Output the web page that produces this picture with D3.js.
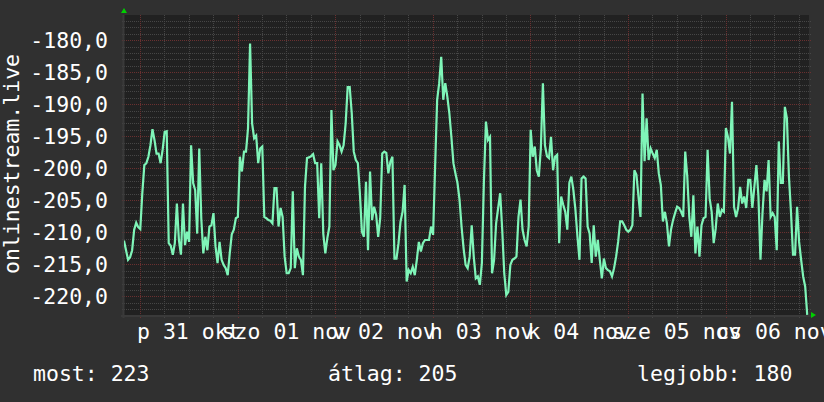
<!DOCTYPE html>
<html><head><meta charset="utf-8">
<script src="https://cdn.jsdelivr.net/npm/d3@7"></script>
<style>
html,body{margin:0;padding:0;background:#303030;}
svg{display:block;}
text{font-family:"DejaVu Sans Mono",monospace;fill:#ffffff;}
</style></head>
<body>
<script>
// ---- data ----
const seriesName = "onlinestream.live";
const startTime = new Date(2025, 9, 30, 20, 4);   // first sample
const stepMinutes = 30;
const values = [
-211.3,-212.8,-214.3,-213.9,-212.8,-209.6,-208.5,-209.2,-209.5,-203.9,
-199.5,-199.2,-198.2,-196.4,-193.9,-195.6,-197.7,-197.7,-199.2,-197.1,
-194.3,-194.2,-211.7,-212.1,-213.5,-211.7,-205.5,-211.2,-213.5,-205.5,
-212.0,-209.9,-211.5,-196.4,-202.3,-203.4,-210.2,-196.9,-207.8,-213.3,
-210.7,-212.8,-209.1,-208.9,-207.0,-212.2,-214.8,-211.5,-214.3,-215.1,
-215.6,-216.7,-213.3,-210.3,-209.6,-207.8,-207.6,-198.2,-200.5,-197.4,
-197.4,-193.7,-180.5,-193.0,-195.3,-194.9,-199.2,-196.9,-196.6,-207.6,
-207.8,-208.1,-208.2,-208.6,-203.1,-203.1,-209.1,-206.2,-207.6,-213.8,
-216.4,-216.4,-215.6,-203.6,-215.6,-212.5,-213.8,-214.3,-216.7,-202.9,
-198.4,-198.3,-198.1,-197.8,-199.2,-199.2,-207.8,-199.2,-210.2,-213.3,
-210.9,-209.1,-190.9,-200.3,-199.5,-195.8,-196.4,-197.4,-196.4,-193.0,
-187.3,-187.3,-191.4,-197.4,-198.7,-199.2,-203.9,-209.9,-210.7,-202.1,
-212.8,-200.5,-208.1,-206.0,-207.3,-210.7,-207.8,-197.7,-197.4,-197.6,
-200.8,-199.0,-198.2,-214.1,-214.1,-211.7,-208.3,-206.8,-202.6,-217.7,
-215.9,-216.4,-215.4,-216.7,-214.3,-211.5,-213.0,-211.7,-211.2,-211.2,
-211.2,-209.1,-210.4,-199.7,-189.3,-186.7,-182.6,-189.3,-186.7,-188.8,
-191.4,-195.1,-199.2,-200.8,-202.3,-204.9,-209.1,-212.5,-215.1,-215.6,
-213.8,-208.9,-213.8,-217.2,-216.9,-218.2,-214.8,-201.9,-192.7,-195.6,
-195.1,-216.4,-214.3,-208.6,-206.2,-203.9,-209.6,-216.4,-219.8,-219.3,
-215.1,-214.3,-214.1,-213.8,-207.6,-204.9,-209.6,-211.2,-212.2,-209.1,
-194.0,-198.2,-196.6,-200.3,-201.3,-196.9,-186.7,-196.4,-198.1,-198.4,
-195.1,-200.3,-198.2,-197.9,-211.7,-204.4,-205.7,-206.8,-209.6,-202.3,
-201.3,-203.4,-206.5,-210.7,-214.3,-201.6,-201.3,-201.6,-209.1,-210.2,
-214.8,-208.9,-213.8,-211.2,-214.3,-217.2,-214.1,-215.6,-215.9,-216.1,
-216.9,-215.6,-213.8,-211.5,-208.3,-208.3,-208.9,-209.6,-209.9,-209.6,
-208.9,-200.3,-201.0,-204.4,-207.6,-188.3,-198.9,-192.2,-198.7,-196.9,
-197.7,-198.4,-197.1,-200.8,-202.6,-208.3,-206.8,-208.6,-212.2,-209.6,
-208.1,-207.0,-206.0,-206.2,-206.8,-207.6,-197.4,-201.3,-207.6,-210.7,
-204.2,-213.3,-209.1,-213.8,-208.9,-207.8,-207.6,-197.1,-204.7,-206.8,
-211.7,-209.4,-205.5,-207.6,-206.5,-206.8,-193.7,-195.1,-197.7,-189.6,
-206.0,-207.6,-206.2,-202.9,-205.5,-204.4,-206.2,-201.8,-201.8,-206.2,
-202.9,-199.5,-204.4,-214.3,-207.0,-201.8,-203.6,-198.7,-207.6,-207.0,
-207.6,-212.8,-195.8,-202.3,-202.3,-190.4,-192.2,-201.3,-206.8,-213.5,
-213.5,-206.0,-211.5,-214.3,-216.9,-218.5,-222.9
];
const dayLabels = ["p 31 okt","szo 01 nov","v 02 nov","h 03 nov","k 04 nov","sze 05 nov","cs 06 nov"];
const dayDates = [[2025,9,31],[2025,10,1],[2025,10,2],[2025,10,3],[2025,10,4],[2025,10,5],[2025,10,6]];
const yTickValues = [-180,-185,-190,-195,-200,-205,-210,-215,-220];
const legendItems = [["most:", "223"], ["átlag:", "205"], ["legjobb:", "180"]];
const domainStart = new Date(2025, 9, 30, 20, 4);
const domainEnd = new Date(2025, 10, 6, 20, 30);
const yDomain = [-222.92, -176.05];

// ---- layout ----
const W = 824, H = 402;
const L = 124, R = 809, T = 15, B = 315;
const svg = d3.select("body").append("svg").attr("width", W).attr("height", H);
svg.append("rect").attr("width", W).attr("height", H).attr("fill", "#303030");

const x = d3.scaleTime().domain([domainStart, domainEnd]).range([L, R]);
const y = d3.scaleLinear().domain(yDomain).range([B, T]);

svg.append("rect").attr("x", L).attr("y", T).attr("width", R - L).attr("height", B - T).attr("fill", "#212121");

const data = values.map((v, i) => ({t: new Date(startTime.getTime() + i * stepMinutes * 60000), v}));

// grid
const minorColor = "#464646", majorColor = "#6a3030";
const g = svg.append("g");
const minorY = d3.range(Math.ceil(yDomain[0]), Math.floor(yDomain[1]) + 1).filter(v => v % 5 !== 0);
g.selectAll(".ymin").data(minorY).join("line")
  .attr("x1", L - 2).attr("x2", R + 2)
  .attr("y1", d => Math.round(y(d)) + 0.5).attr("y2", d => Math.round(y(d)) + 0.5)
  .attr("stroke", minorColor).attr("stroke-dasharray", "1,1");
const xMinor = d3.timeHour.every(6).range(domainStart, domainEnd).filter(d => d.getHours() !== 0);
g.selectAll(".xmin").data(xMinor).join("line")
  .attr("x1", d => Math.round(x(d)) + 0.5).attr("x2", d => Math.round(x(d)) + 0.5)
  .attr("y1", T).attr("y2", B + 3)
  .attr("stroke", minorColor).attr("stroke-dasharray", "1,1");
g.selectAll(".ymaj").data(yTickValues).join("line")
  .attr("x1", L - 2).attr("x2", R + 2)
  .attr("y1", d => Math.round(y(d)) + 0.5).attr("y2", d => Math.round(y(d)) + 0.5)
  .attr("stroke", majorColor).attr("stroke-dasharray", "1,1");
const xMajor = d3.timeDay.range(domainStart, domainEnd);
g.selectAll(".xmaj").data(xMajor).join("line")
  .attr("x1", d => Math.round(x(d)) + 0.5).attr("x2", d => Math.round(x(d)) + 0.5)
  .attr("y1", T).attr("y2", B + 3)
  .attr("stroke", majorColor).attr("stroke-dasharray", "1,1");

// axes lines
svg.append("line").attr("x1", L - 0.5).attr("x2", L - 0.5).attr("y1", T).attr("y2", B + 3).attr("stroke", "#3a3a3a").attr("stroke-width", 2);
svg.append("line").attr("x1", L - 3).attr("x2", R + 3).attr("y1", B + 1).attr("y2", B + 1).attr("stroke", "#3a3a3a").attr("stroke-width", 2);

// line
const clipId = "plotclip";
svg.append("clipPath").attr("id", clipId).append("rect").attr("x", L).attr("y", T - 2).attr("width", R - L).attr("height", B - T + 2);
svg.append("path").datum(data)
  .attr("clip-path", `url(#${clipId})`)
  .attr("fill", "none").attr("stroke", "#7ff5b8").attr("stroke-width", 2.2)
  .attr("stroke-linejoin", "miter")
  .attr("d", d3.line().x(d => x(d.t)).y(d => y(d.v)));

// arrows
svg.append("path").attr("d", `M${L - 3},${T - 2} L${L + 3},${T - 2} L${L},${T - 7} Z`).attr("fill", "#00d000");
svg.append("path").attr("d", `M${R + 2},${B - 3} L${R + 2},${B + 3} L${R + 7},${B} Z`).attr("fill", "#00d000");

// y labels
const fmt = v => d3.format(".1f")(v).replace("−", "-").replace(".", ",");
svg.append("g").selectAll("text").data(yTickValues).join("text")
  .attr("x", 108).attr("y", d => y(d) + 7.5)
  .attr("text-anchor", "end").attr("font-size", 21.5)
  .text(d => fmt(d));

// x labels centered at noon
svg.append("g").selectAll("text").data(dayLabels).join("text")
  .attr("x", (d, i) => x(new Date(dayDates[i][0], dayDates[i][1], dayDates[i][2], 12)))
  .attr("y", 339).attr("text-anchor", "middle").attr("font-size", 21.5)
  .text(d => d);

// y title
svg.append("text").attr("transform", "translate(19,164) rotate(-90)")
  .attr("text-anchor", "middle").attr("font-size", 21.5).text(seriesName);

// legend
const legendX = [33, 328, 637];
svg.append("g").selectAll("text").data(legendItems).join("text")
  .attr("x", (d, i) => legendX[i]).attr("y", 381).attr("font-size", 21.5)
  .text(d => d[0] + " " + d[1]);
</script>
</body></html>
